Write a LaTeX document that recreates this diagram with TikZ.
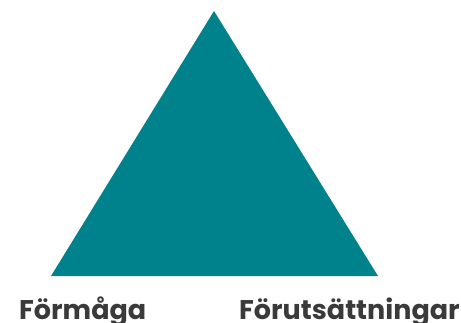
\documentclass[tikz,border=0pt]{standalone}
\usepackage{fontspec}
\setmainfont{Poppins}
\usepackage{tikz}
\usetikzlibrary{positioning}
\definecolor{triTeal}{HTML}{00828C}
\definecolor{triText}{HTML}{3A3A3A}
\tikzset{
  trifill/.style={fill=triTeal,draw=none},
  trilabel/.style={inner sep=0pt,anchor=base west,text=triText,font=\fontsize{27}{30}\selectfont\bfseries}
}

\begin{document}
\begin{tikzpicture}[x=1pt,y=1pt]
  \useasboundingbox (0,0) rectangle (461,322);
  \coordinate (top) at (214,311);
  \coordinate (left) at (51,46);
  \coordinate (right) at (378,46);
  \fill[trifill] (top) -- (left) -- (right) -- cycle;
  \node[trilabel] (formaga) at (19,3) {Förmåga};
  \node[trilabel] (forutsattningar) at (239,3) {Förutsättningar};
\end{tikzpicture}
\end{document}
